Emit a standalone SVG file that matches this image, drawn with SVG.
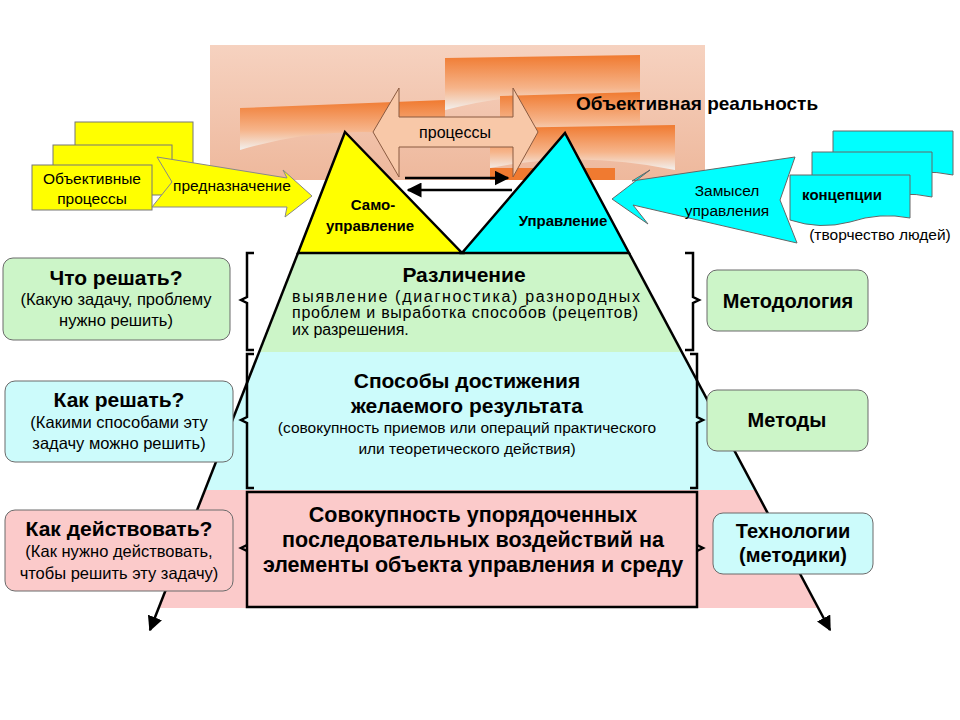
<svg xmlns="http://www.w3.org/2000/svg" width="960" height="720" viewBox="0 0 960 720">
<defs>
<linearGradient id="bg" x1="0" y1="0" x2="0" y2="1"><stop offset="0" stop-color="#f6d2c0"/><stop offset="1" stop-color="#eeb89c"/></linearGradient>
<linearGradient id="wave" x1="0" y1="0" x2="0" y2="1"><stop offset="0" stop-color="#f07a30"/><stop offset="0.6" stop-color="#f6b48a"/><stop offset="1" stop-color="#f2f0ee"/></linearGradient>
<marker id="ah" viewBox="0 0 10 10" refX="9" refY="5" markerWidth="6" markerHeight="6" orient="auto"><path d="M0,0 L10,5 L0,10 Z" fill="#000"/></marker>
</defs>
<style>
text{font-family:"Liberation Sans",Arial,sans-serif;fill:#000}
.b{font-weight:bold}
.c{text-anchor:middle}
.box{stroke:#6a6a6a;stroke-width:1}
.br{fill:none;stroke:#000;stroke-width:2.5}
</style>
<rect width="960" height="720" fill="#fff"/>
<g id="background">
<rect x="210" y="45" width="495" height="135" fill="url(#bg)"/>
<path d="M445,58 L640,55 L640,100 Q540,85 445,110 Z" fill="url(#wave)"/>
<path d="M240,108 L445,100 L445,140 Q340,120 240,150 Z" fill="url(#wave)"/>
<path d="M500,96 L640,92 L640,130 Q560,120 500,140 Z" fill="url(#wave)"/>
<path d="M490,128 L675,125 L675,170 Q580,150 490,168 Z" fill="url(#wave)"/>
<rect x="490" y="168" width="125" height="12" fill="#f07a30"/>
</g>
<g id="processes">
<polygon points="373,132 399,88 399,117 513,117 513,88 538,132 513,177 513,147 399,147 399,177" fill="#f8c8a8" stroke="#8a5a40" stroke-width="1"/>
<text x="455" y="138" class="c" font-size="16">процессы</text>
</g>
<g id="reality"><text x="697" y="110" class="c b" font-size="19">Объективная реальность</text></g>
<g id="pyramid">
<polygon points="298,253 629,253 682,352 260,352" fill="#ccf5c8"/>
<polygon points="260,352 682,352 755,490 205,490" fill="#ccfbfb"/>
<polygon points="205,490 755,490 818,608 159,608" fill="#fbcaca"/>
<polygon points="345,132 462,253 298,253" fill="#ffff00" stroke="#000" stroke-width="2.5"/>
<polygon points="565,133 629,253 462,253" fill="#00ffff" stroke="#000" stroke-width="2.5"/>
</g>
<g id="connectors">
<line x1="298" y1="253" x2="150" y2="630" stroke="#000" stroke-width="2.5" marker-end="url(#ah)"/>
<line x1="629" y1="253" x2="830" y2="630" stroke="#000" stroke-width="2.5" marker-end="url(#ah)"/>
<line x1="405" y1="178" x2="508" y2="178" stroke="#000" stroke-width="2.5" marker-end="url(#ah)"/>
<line x1="512" y1="190" x2="408" y2="190" stroke="#000" stroke-width="2.5" marker-end="url(#ah)"/>
</g>
<g id="tri-text">
<text x="373" y="210" class="c b" font-size="15">Само-</text>
<text x="370" y="231" class="c b" font-size="15">управление</text>
<text x="563" y="226" class="c b" font-size="15">Управление</text>
</g>
<g id="band1">
<path class="br" d="M254,253 L247,253 L247,297 L241,300 L247,303 L247,350 L254,350"/>
<path class="br" d="M685,253 L693,253 L693,297 L699,300 L693,303 L693,350 L685,350"/>
<text x="464" y="282" class="c b" font-size="21">Различение</text>
<text x="292" y="302" font-size="16" textLength="348">выявление (диагностика) разнородных</text>
<text x="292" y="318" font-size="16" textLength="346">проблем и выработка способов (рецептов)</text>
<text x="292" y="335" font-size="16">их разрешения.</text>
</g>
<g id="band2">
<path class="br" d="M254,354 L247,354 L247,417 L241,420 L247,423 L247,488 L254,488"/>
<path class="br" d="M690,354 L697,354 L697,417 L703,420 L697,423 L697,488 L690,488"/>
<text x="467" y="388" class="c b" font-size="21">Способы достижения</text>
<text x="467" y="413" class="c b" font-size="21">желаемого результата</text>
<text x="467" y="433" class="c" font-size="15.5">(совокупность приемов или операций практического</text>
<text x="467" y="454" class="c" font-size="15.5">или теоретического действия)</text>
</g>
<g id="band3">
<path d="M247,492 L697,492 L697,607 L247,607 Z" fill="none" stroke="#000" stroke-width="2.5"/>
<path class="br" d="M247,545 L241,548 L247,551 M697,545 L703,548 L697,551"/>
<text x="473" y="522" class="c b" font-size="21.5">Совокупность упорядоченных</text>
<text x="473" y="547" class="c b" font-size="21.5">последовательных воздействий на</text>
<text x="473" y="572" class="c b" font-size="21.5">элементы объекта управления и среду</text>
</g>
<g id="q1"><rect class="box" x="3" y="258" width="227" height="82" rx="10" fill="#ccf5c8"/>
<text x="116" y="285" class="c b" font-size="21">Что решать?</text>
<text x="116" y="305" class="c" font-size="16.5">(Какую задачу, проблему</text>
<text x="116" y="326" class="c" font-size="16.5">нужно решить)</text></g>
<g id="q2"><rect class="box" x="5" y="381" width="228" height="81" rx="10" fill="#ccfbfb"/>
<text x="119" y="407" class="c b" font-size="21">Как решать?</text>
<text x="119" y="428" class="c" font-size="16.5">(Какими способами эту</text>
<text x="119" y="449" class="c" font-size="16.5">задачу можно решить)</text></g>
<g id="q3"><rect class="box" x="5" y="510" width="228" height="81" rx="10" fill="#fbcaca"/>
<text x="119" y="536" class="c b" font-size="21">Как действовать?</text>
<text x="119" y="557" class="c" font-size="16.5">(Как нужно действовать,</text>
<text x="119" y="579" class="c" font-size="16.5">чтобы решить эту задачу)</text></g>
<g id="r1"><rect class="box" x="707" y="270" width="161" height="61" rx="10" fill="#ccf5c8"/>
<text x="788" y="308" class="c b" font-size="20">Методология</text></g>
<g id="r2"><rect class="box" x="707" y="390" width="161" height="61" rx="10" fill="#ccf5c8"/>
<text x="787" y="427" class="c b" font-size="20">Методы</text></g>
<g id="r3"><rect class="box" x="713" y="513" width="160" height="61" rx="10" fill="#ccfbfb"/>
<text x="793" y="538" class="c b" font-size="20">Технологии</text>
<text x="793" y="562" class="c b" font-size="20">(методики)</text></g>
<g id="objective">
<rect x="75" y="122" width="118" height="53" fill="#ffff00" stroke="#777"/>
<rect x="53" y="145" width="119" height="50" fill="#ffff00" stroke="#777"/>
<rect x="32" y="165" width="120" height="45" fill="#ffff00" stroke="#777"/>
<text x="92" y="184" class="c" font-size="15.5">Объективные</text>
<text x="92" y="204" class="c" font-size="15.5">процессы</text>
</g>
<g id="purpose">
<polygon points="157,157 287,178 283,170 312,196 285,217 287,207 152,207 172,182" fill="#ffff00" stroke="#888"/>
<text x="232" y="191" class="c" font-size="15.5">предназначение</text>
</g>
<g id="concepts">
<path d="M833,131 H953 V175 Q920,168 893,178 L833,178 Z" fill="#00ffff" stroke="#666"/>
<path d="M812,152 H932 V197 Q900,190 872,200 L812,200 Z" fill="#00ffff" stroke="#666"/>
<path d="M790,175 H910 V218 Q880,212 850,222 Q820,230 790,220 Z" fill="#00ffff" stroke="#666"/>
<text x="842" y="200" class="c b" font-size="15">концепции</text>
<text x="880" y="240" class="c" font-size="15.5">(творчество людей)</text>
</g>
<g id="intent">
<polygon points="612,199 650,170 632,181 795,157 780,200 797,243 633,205 648,224" fill="#00ffff" stroke="#666"/>
<text x="727" y="196" class="c" font-size="15.5">Замысел</text>
<text x="727" y="216" class="c" font-size="15.5">управления</text>
</g>
</svg>
